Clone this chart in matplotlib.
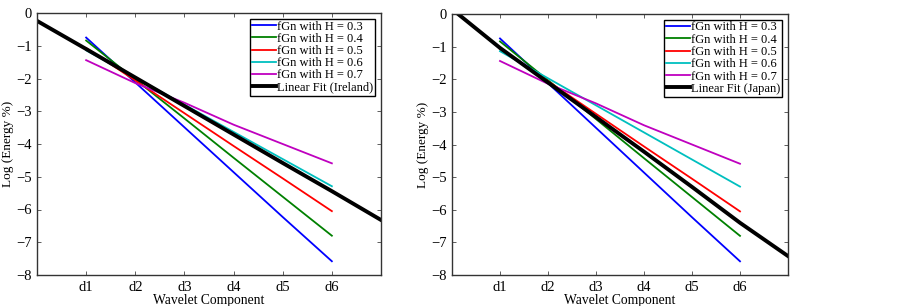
import numpy as np
import matplotlib
matplotlib.use('Agg')
import matplotlib.pyplot as plt

plt.rcParams['font.family'] = ['Liberation Serif', 'DejaVu Serif']

# wavelet components
comps = ['d1', 'd2', 'd3', 'd4', 'd5', 'd6']
x_comp = [1, 2, 3, 4, 5, 6]

# fGn reference lines (log energy %)
hurst = ['0.3', '0.4', '0.5', '0.6', '0.7']
fgn_h03 = [-0.75, -2.12, -3.49, -4.86, -6.23, -7.58]
fgn_h04 = [-0.84, -2.03, -3.22, -4.42, -5.61, -6.80]
fgn_h05 = [-1.07, -2.06, -3.06, -4.06, -5.05, -6.05]
fgn_h06 = [-1.14, -1.97, -2.80, -3.63, -4.46, -5.29]
fgn_h07 = [-1.44, -2.14, -2.74, -3.41, -4.00, -4.59]
fgn_all = [fgn_h03, fgn_h04, fgn_h05, fgn_h06, fgn_h07]

# linear fits, drawn across the whole x range
x_fit = [0, 1, 2, 3, 4, 5, 6, 7]
fit_ireland = [-0.24, -1.10, -1.97, -2.84, -3.71, -4.58, -5.44, -6.32]
fit_japan = [0.15, -1.04, -2.10, -3.16, -4.22, -5.30, -6.40, -7.42]

colors = [(0, 0, 1), (0, 0.5, 0), (1, 0, 0), (0, 0.75, 0.75), (0.75, 0, 0.75)]

fig = plt.figure(figsize=(9.03, 3.06), dpi=100)
W, H = 903, 306
ax1 = fig.add_axes([37 / W, 1 - 275 / H, (381 - 37) / W, (275 - 13) / H])
ax2 = fig.add_axes([452 / W, 1 - 275 / H, (788 - 452) / W, (275 - 14) / H])


def draw(ax, fit, country):
    for vals, c, h in zip(fgn_all, colors, hurst):
        ax.plot(x_comp, vals, color=c, lw=1.3, label='fGn with H = ' + h)
    ax.plot(x_fit, fit, color='black', lw=2.8, label='Linear Fit (' + country + ')')
    ax.set_xlim(0, 7)
    ax.set_ylim(-8, 0)
    ax.set_xticks(x_comp)
    ax.set_xticklabels(comps)
    ax.set_yticks(range(-8, 1))
    ax.tick_params(direction='in', top=True, right=True, labelsize=10.5,
                   length=3, width=0.6, color='#444444', pad=4)
    for s in ax.spines.values():
        s.set_linewidth(1.0)
        s.set_color('#333333')
    ax.set_xlabel('Wavelet Component', fontsize=9.8, labelpad=0)
    ax.set_ylabel('Log (Energy %)', fontsize=9.5, labelpad=1)
    leg = ax.legend(loc='upper right', fontsize=9, fancybox=False, framealpha=1,
                    edgecolor='black', labelspacing=0.02, handlelength=1.9,
                    handletextpad=0.1, borderpad=0.15, borderaxespad=0.45)
    leg.get_frame().set_linewidth(1.0)


draw(ax1, fit_ireland, 'Ireland')
draw(ax2, fit_japan, 'Japan')

fig.savefig('out.png', dpi=100)
